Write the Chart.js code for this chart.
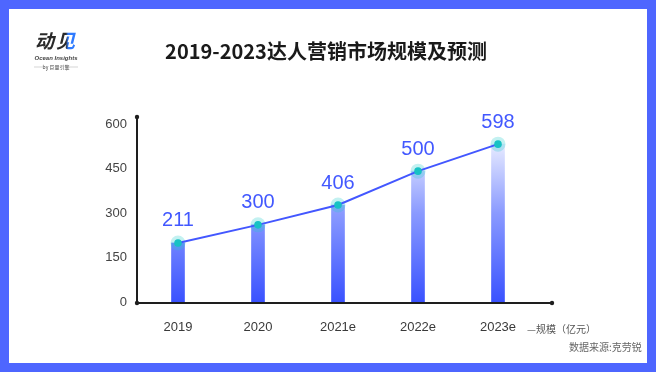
<!DOCTYPE html>
<html lang="zh">
<head>
  <meta charset="UTF-8">
  <title>达人营销市场规模</title>
  <script src="https://cdn.jsdelivr.net/npm/chart.js@4.4.0/dist/chart.umd.min.js"></script>
  <style>
    html, body { margin: 0; padding: 0; background: #fff; }
    .wrap { position: relative; width: 656px; height: 372px; }
  </style>
</head>
<body>
<div class="wrap">
  <canvas id="chart" width="656" height="372"></canvas>
</div>

<script>
// data
const years = ['2019', '2020', '2021e', '2022e', '2023e'];
// heights the marks are drawn at
const plotted = [199, 260, 327, 441, 532];
// numbers printed above each point
const printed = ['211', '300', '406', '500', '598'];
const yTicks = [0, 150, 300, 450, 600];

const titleText = '2019-2023达人营销市场规模及预测';
const unitText = '—规模（亿元）';
const sourceText = '数据来源:克劳锐';

const numFont = '"Liberation Sans", "Noto Sans CJK SC", sans-serif';
const cjkFont = '"Noto Sans CJK SC", "Liberation Sans", sans-serif';

function barGradient(ctx) {
  const chart = ctx.chart;
  const area = chart.chartArea;
  if (!area) return '#3d55ff';
  const el = ctx.element;
  const top = el && el.y != null ? el.y : area.top;
  const g = chart.ctx.createLinearGradient(0, area.bottom, 0, top);
  g.addColorStop(0, 'rgb(58, 82, 255)');
  g.addColorStop(0.5, 'rgb(138, 154, 255)');
  g.addColorStop(0.85, 'rgb(222, 227, 255)');
  g.addColorStop(1, 'rgb(246, 247, 255)');
  return g;
}

// frame, title, logo, axes, value labels
const decor = {
  id: 'decor',
  beforeDraw(chart) {
    const c = chart.ctx;
    const W = chart.width, H = chart.height;
    c.save();
    c.fillStyle = '#4e66ff';
    c.fillRect(0, 0, W, H);
    c.fillStyle = '#fff';
    c.fillRect(9, 9, W - 18, H - 18);

    // title
    c.fillStyle = '#1a1a1a';
    c.font = 'bold 20px ' + cjkFont;
    c.textAlign = 'center';
    c.textBaseline = 'middle';
    c.fillText(titleText, 326, 51);

    // logo
    c.textAlign = 'left';
    c.font = 'italic bold 19px ' + cjkFont;
    c.fillStyle = '#2a2a2a';
    c.fillText('动', 35, 41);
    const g = c.createLinearGradient(56, 0, 78, 0);
    g.addColorStop(0, '#2a2a2a');
    g.addColorStop(0.45, '#2a2a2a');
    g.addColorStop(0.55, '#2f7bff');
    g.addColorStop(1, '#2f7bff');
    c.fillStyle = g;
    c.fillText('见', 56, 41);
    c.fillStyle = '#444';
    c.font = 'italic bold 6px ' + numFont;
    c.textAlign = 'center';
    c.fillText('Ocean Insights', 56, 58);
    c.font = '5px ' + cjkFont;
    c.fillText('by 巨量引擎', 56, 67);
    c.strokeStyle = '#bbb';
    c.lineWidth = 0.6;
    c.beginPath();
    c.moveTo(34, 67); c.lineTo(44, 67);
    c.moveTo(68, 67); c.lineTo(78, 67);
    c.stroke();
    c.restore();
  },
  afterDraw(chart) {
    const c = chart.ctx;
    const area = chart.chartArea;
    const y = chart.scales.y;
    c.save();
    // axes
    const ax = area.left - 1;
    const ay = area.bottom + 1;
    const top = y.getPixelForValue(600) - 7;
    const right = area.right + 14;
    c.strokeStyle = '#1e1e1e';
    c.fillStyle = '#1e1e1e';
    c.lineWidth = 2;
    c.beginPath();
    c.moveTo(ax, top); c.lineTo(ax, ay); c.lineTo(right, ay);
    c.stroke();
    [[ax, top], [ax, ay], [right, ay]].forEach(p => {
      c.beginPath(); c.arc(p[0], p[1], 2.2, 0, Math.PI * 2); c.fill();
    });

    // value labels
    const meta = chart.getDatasetMeta(2);
    c.fillStyle = '#4258ff';
    c.font = '20px ' + numFont;
    c.textAlign = 'center';
    c.textBaseline = 'middle';
    meta.data.forEach((pt, i) => {
      c.fillText(printed[i], pt.x, pt.y - 22);
    });

    // unit + source
    c.fillStyle = '#555';
    c.font = '10px ' + cjkFont;
    c.textAlign = 'left';
    c.fillText(unitText, 527, 329);
    c.fillStyle = '#666';
    c.fillText(sourceText, 569, 347);
    c.restore();
  }
};

const ctx = document.getElementById('chart').getContext('2d');
const chart = new Chart(ctx, {
  data: {
    labels: years,
    datasets: [
      {
        type: 'bar',
        data: plotted,
        backgroundColor: barGradient,
        barThickness: 13,
        order: 3
      },
      {
        type: 'line',
        data: plotted,
        showLine: false,
        pointRadius: 7.5,
        pointBackgroundColor: 'rgba(40, 205, 205, 0.28)',
        pointBorderWidth: 0,
        order: 2
      },
      {
        type: 'line',
        data: plotted,
        borderColor: '#4357ff',
        borderWidth: 2,
        pointRadius: 3.8,
        pointBackgroundColor: '#17c2c4',
        pointBorderWidth: 0,
        tension: 0,
        order: 1
      }
    ]
  },
  options: {
    responsive: false,
    animation: false,
    layout: { padding: { left: 99, right: 118, top: 124, bottom: 0 } },
    plugins: {
      legend: { display: false },
      tooltip: { enabled: false }
    },
    scales: {
      x: {
        grid: { display: false, drawTicks: false },
        border: { display: false },
        afterFit: s => { s.height = 70; },
        ticks: {
          padding: 18,
          color: '#3a3a3a',
          font: { family: numFont, size: 13 }
        }
      },
      y: {
        min: 0,
        max: 600,
        afterFit: s => { s.width = 39; },
        afterBuildTicks: s => { s.ticks = yTicks.map(v => ({ value: v })); },
        grid: { display: false, drawTicks: false },
        border: { display: false },
        ticks: {
          padding: 11,
          color: '#444',
          font: { family: numFont, size: 13 }
        }
      }
    }
  },
  plugins: [decor]
});
</script>
</body>
</html>
